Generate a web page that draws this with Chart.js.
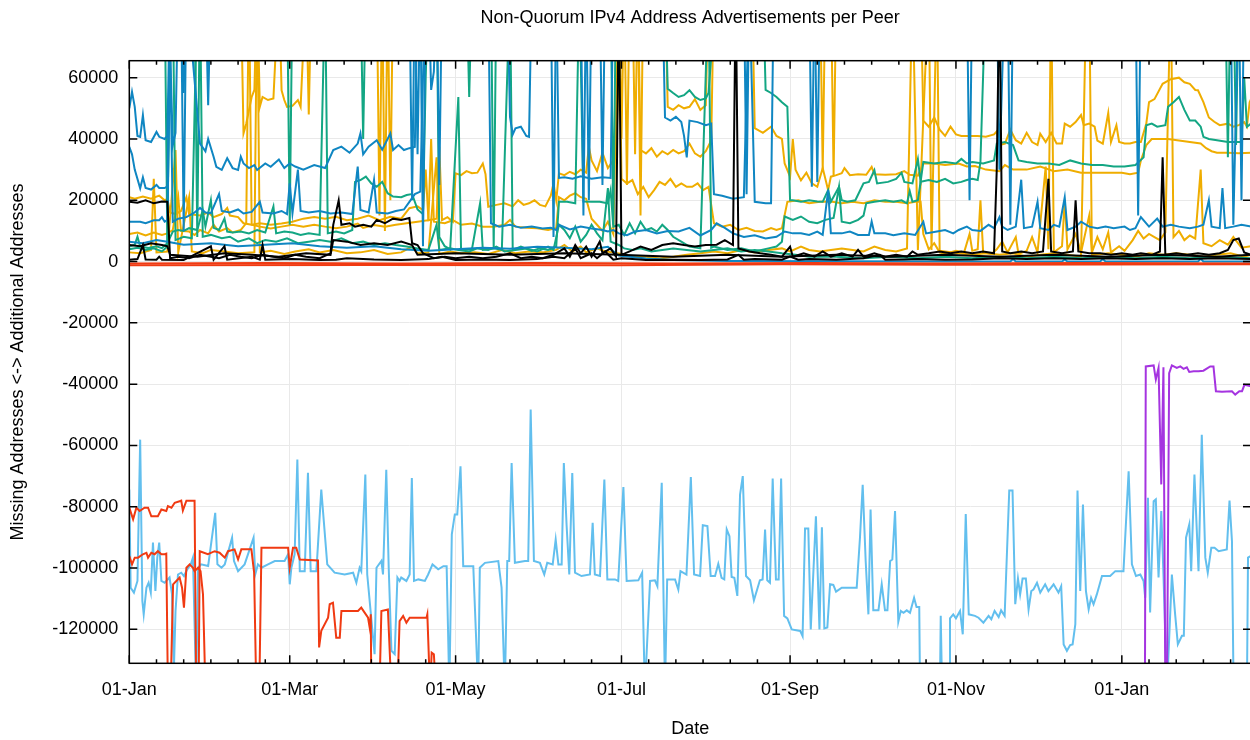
<!DOCTYPE html>
<html>
<head>
<meta charset="utf-8">
<title>Non-Quorum IPv4 Address Advertisements per Peer</title>
<script src="https://cdn.jsdelivr.net/npm/chart.js@4.4.1/dist/chart.umd.min.js"></script>
<style>
  html, body { margin: 0; padding: 0; background: #fff; overflow: hidden; }
  canvas { display: block; }
</style>
</head>
<body>
<canvas id="peerChart" width="1256" height="740"></canvas>
<script>
// x = days since 01-Jan, y = addresses (+ additional / - missing)
const majorDays = [0, 59, 120, 181, 243, 304, 365];
const majorLabels = ['01-Jan', '01-Mar', '01-May', '01-Jul', '01-Sep', '01-Nov', '01-Jan'];
const minorDays = [10, 20, 30, 40, 50, 69, 79, 89, 99, 109, 130, 140, 150, 160, 170,
  191, 201, 211, 221, 231, 253, 263, 273, 283, 293, 314, 324, 334, 344, 354, 375, 385, 395, 405];
const yTicks = [-120000, -100000, -80000, -60000, -40000, -20000, 0, 20000, 40000, 60000];

// peers, as [day, value]
const blueHi = [[0,50000],[1,55400],[2,50500],[3,41000],[4,40700],[5,47800],[6,39600],[8,39000],[10,42300],[11,40700],[13,40000],[14,41000],[15,90000],[19,90000],[20,10000],[21,90000],[28,90000],[29,51000],[30,90000],[103,90000],[104,20000],[105,90000],[106,35000],[107,90000],[108,5000],[109,90000],[110,90000],[111,56000],[112,62000],[113,90000],[114,25000],[115,90000],[139,90000],[140,47200],[141,41500],[142,43500],[144,44000],[146,41000],[147,40700],[148,90000],[155,90000],[156,8000],[157,90000],[166,90000],[167,15000],[168,90000],[169,20000],[170,90000],[173,90000],[174,25000],[175,90000],[196,90000],[197,47000],[199,46000],[201,47200],[203,45500],[204,41000],[205,34000],[206,46000],[209,45500],[212,44500],[214,45000],[215,22000],[218,21500],[222,20500],[226,21000],[228,90000],[230,19500],[234,19000],[236,19000],[237,90000],[250,90000],[251,24400],[252,90000],[308,90000],[309,20000],[310,90000],[319,90000],[320,30000],[322,90000],[370,90000],[371,15000],[372,90000],[405,90000],[406,12000],[408,90000],[409,20000],[410,90000],[412.5,90000]];

const blueMid = [[0,37400],[1,35000],[2,30000],[4,23900],[5,27500],[6,24000],[8,23500],[10,25000],[11,24000],[13,24000],[14,24500],[15,70000],[16,38000],[17,42000],[18,90000],[20,55000],[21,90000],[26,38500],[28,36000],[29,40000],[31,34200],[32,30900],[34,29900],[36,33700],[38,30500],[40,29900],[41,34200],[42,32000],[44,30500],[46,31500],[47,29900],[50,32000],[52,30900],[55,33300],[57,30500],[59,32000],[61,31000],[64,30000],[68,31500],[72,30500],[75,36400],[78,37500],[81,35500],[84,38500],[85,41800],[86,35000],[88,37500],[91,39600],[93,36500],[96,41800],[97,36400],[99,38000],[101,36400],[103,37000],[105,37400],[106,90000],[157,90000],[158,27300],[160,27500],[163,27000],[166,27800],[170,27000],[174,27500],[177,27300],[178,90000],[226,90000],[227,22000],[228,90000],[252,90000],[253,26000],[254,90000],[323,90000],[324,12000],[325,90000],[412.5,90000]];

const blueLow = [[0,13000],[4,13000],[6,12500],[9,13500],[11,13500],[12,14500],[13,13000],[14,13500],[15,70000],[16,13000],[18,14000],[21,14500],[24,16000],[26,17500],[28,16000],[30,15800],[33,22000],[34,16500],[37,16000],[40,17000],[42,15700],[45,16200],[48,19500],[49,16000],[53,15700],[56,16500],[58,15500],[59,25500],[60,15700],[62,30000],[63,16500],[66,16000],[70,16500],[74,15700],[78,16000],[82,15500],[84,31000],[85,16800],[88,16000],[90,26600],[91,16000],[95,15700],[98,16500],[101,17000],[103,19500],[105,22000],[107,22800],[108,60000],[109,90000],[132,90000],[133,12500],[136,11400],[140,12000],[144,11000],[148,11400],[152,10800],[155,11000],[157,10300],[158,12000],[162,10500],[166,11400],[170,10800],[174,10300],[176,9800],[178,10300],[180,9200],[183,8600],[186,9800],[190,10300],[194,9200],[198,10000],[202,9800],[206,11000],[210,8500],[214,10300],[216,12500],[219,11000],[222,9200],[226,8000],[230,8600],[234,7500],[238,8100],[241,9800],[244,9200],[247,9200],[250,8700],[253,9800],[255,8700],[257,23300],[258,9200],[262,9200],[265,9800],[268,8700],[272,8700],[273,13100],[274,9200],[278,9200],[281,8600],[285,9200],[289,8700],[292,13000],[293,9200],[297,9800],[300,10300],[303,9200],[305,10300],[308,11400],[310,10300],[313,10000],[316,12000],[318,10900],[320,14500],[321,11400],[323,10300],[326,11400],[328,26700],[329,10900],[332,11400],[334,19500],[335,10900],[338,10300],[340,12000],[342,11400],[344,21000],[345,10300],[348,11400],[350,13000],[353,11400],[356,10900],[359,11400],[362,10900],[366,11400],[368,10300],[370,10900],[372,14500],[375,11400],[378,14000],[380,11400],[383,12000],[386,11400],[390,10900],[393,11400],[395,12000],[397,20000],[398,11400],[401,10900],[402,24000],[403,10900],[406,11400],[409,12000],[412.5,11400]];

const blueBase = [[0,6500],[5,6000],[10,7000],[14,6500],[20,5500],[30,6000],[40,5000],[50,5500],[60,6000],[70,5000],[80,4500],[90,5000],[100,4000],[110,3500],[120,4000],[130,4500],[140,4200],[150,4800],[160,4500],[170,4000],[176,4800],[180,2000],[190,1000],[200,500],[220,200],[260,100],[300,0],[324,0],[325,800],[326,0],[343,0],[344,700],[345,0],[357,0],[358,800],[359,0],[393,0],[394,900],[395,0],[412.5,0]];

const goldHi = [[0,90000],[41,90000],[42,41800],[43,45000],[45,53700],[46,56000],[47,90000],[48,50500],[49,53700],[51,52700],[53,53200],[55,90000],[56,55900],[57,52700],[58,50500],[60,50800],[62,52700],[63,50500],[65,90000],[66,48000],[67,90000],[91,90000],[92,15000],[93,90000],[94,10000],[95,90000],[96,20000],[97,90000],[180,90000],[181,40000],[182,90000],[183,25000],[184,90000],[185,90000],[186,35000],[187,90000],[188,15000],[189,90000],[197,90000],[198,50500],[200,49500],[202,51000],[204,50000],[206,50500],[208,53000],[210,49500],[212,51000],[213,90000],[254,90000],[255,30000],[256,90000],[258,90000],[259,28000],[260,90000],[291,90000],[292,46000],[294,44000],[296,47000],[298,43000],[300,41000],[302,44000],[304,41500],[306,41000],[309,41000],[312,41000],[315,40700],[318,41500],[319,42500],[320,38000],[322,38500],[324,43000],[326,39600],[328,38500],[330,42000],[332,39000],[334,38000],[335,41700],[337,39000],[339,42000],[341,38500],[343,38500],[344,45000],[346,44000],[348,45500],[350,47800],[351,44500],[353,45000],[355,44000],[356,39500],[358,38500],[360,48500],[361,39000],[363,44500],[364,39000],[366,38500],[368,38500],[370,39000],[372,39000],[374,45000],[375,52000],[377,53000],[380,58000],[383,59500],[386,60000],[388,58500],[390,58000],[392,56000],[393,55900],[395,52000],[397,47000],[399,45600],[401,44500],[404,45000],[406,44000],[408,44500],[410,45500],[411,44000],[412,52000],[412.5,53000]];

const goldMid1 = [[0,21000],[2,20500],[5,21200],[8,20500],[11,21500],[13,20000],[14,20500],[15,16000],[17,15500],[19,16500],[21,21000],[22,15500],[26,15000],[29,16000],[31,14500],[34,15500],[36,17500],[37,15000],[40,14500],[42,12500],[45,12000],[48,12500],[52,12000],[56,12400],[60,13000],[64,14000],[68,14500],[72,14000],[76,14600],[80,13500],[84,14000],[88,15000],[92,13500],[96,14600],[100,14000],[103,17400],[106,18000],[108,16800],[109,30000],[110,13500],[113,14000],[114,37500],[115,13500],[117,14500],[119,13000],[120,28800],[122,28200],[124,29500],[126,28800],[128,29000],[130,32000],[131,28500],[132,17900],[135,18500],[138,19000],[141,18000],[143,20000],[145,18500],[147,19000],[149,20000],[151,18500],[153,18000],[155,21500],[156,25500],[157,20000],[158,28800],[160,28200],[162,29300],[164,28500],[166,30000],[168,29000],[169,37500],[170,33000],[172,29500],[174,35500],[176,30500],[178,33000],[179,35000],[181,90000],[187,90000],[188,36400],[190,35300],[192,37000],[194,34200],[196,36000],[198,35000],[200,36400],[202,35300],[204,36000],[206,38500],[208,35300],[210,34200],[212,36000],[214,39500],[215,90000],[229,90000],[230,43500],[233,42000],[236,44000],[238,41000],[240,40000],[241,32000],[243,27700],[244,40000],[245,30000],[247,26500],[249,29000],[251,25500],[253,24400],[255,30500],[257,23300],[258,27700],[260,28200],[262,28800],[263,30500],[265,28200],[268,28500],[271,28300],[273,30900],[274,28500],[278,28300],[282,28500],[285,29500],[287,28300],[290,28000],[292,32000],[296,32000],[300,31500],[305,32000],[308,31000],[311,31200],[315,30000],[320,29500],[322,31500],[325,30000],[330,30000],[335,31000],[340,29500],[345,30000],[350,29000],[355,29000],[360,29000],[365,29000],[368,28500],[371,29000],[372,33000],[374,38000],[376,40000],[378,40000],[382,40000],[386,39500],[390,39000],[394,38500],[396,37000],[398,36000],[400,35500],[404,35500],[408,35300],[412.5,35500]];

const goldMid2 = [[0,9000],[3,9500],[6,8500],[9,9500],[12,8700],[14,9200],[16,10300],[18,21000],[19,10000],[22,9800],[24,8700],[26,10300],[29,9200],[31,12000],[33,9800],[36,10900],[38,9500],[41,10300],[43,12500],[44,90000],[45,12000],[48,11400],[52,10800],[56,11400],[60,12000],[64,11400],[68,12000],[72,11400],[76,10900],[80,11400],[84,12400],[86,11000],[90,11900],[94,11400],[98,12000],[102,12500],[106,13000],[110,13500],[111,40000],[112,13000],[116,12500],[119,13500],[122,12000],[126,12400],[130,11400],[134,11400],[138,12000],[140,13600],[142,11400],[146,11000],[150,10900],[154,10300],[157,11000],[158,21000],[160,20000],[162,21500],[164,22300],[166,21000],[168,20500],[170,14000],[172,12000],[174,10000],[176,13000],[178,9000],[180,90000],[181,27000],[183,25500],[185,26600],[187,22000],[189,24400],[191,21000],[193,23300],[195,26000],[197,25000],[199,27000],[201,24400],[203,25500],[205,24400],[207,24400],[209,25500],[211,23300],[213,24400],[215,12500],[218,11400],[221,12000],[224,10300],[227,11000],[230,10000],[233,9800],[236,10900],[238,10300],[240,10900],[242,19500],[246,20000],[250,19000],[254,19500],[258,19600],[262,19000],[266,19500],[270,19000],[274,20000],[278,19500],[282,19500],[286,19000],[289,19500],[291,19500],[292,9000],[294,4000],[296,6000],[298,3000],[300,2500],[304,3500],[307,3000],[309,9000],[310,3500],[312,4000],[313,20000],[314,3000],[317,2500],[319,4000],[321,6500],[323,3000],[326,8000],[327,2500],[330,3500],[332,8000],[334,3000],[337,31000],[338,4000],[339,90000],[340,3000],[343,5000],[344,20000],[345,4000],[348,9000],[350,3000],[353,15000],[354,3000],[356,8000],[358,4000],[360,9500],[361,3000],[364,5000],[366,3500],[369,7000],[371,10000],[373,7500],[375,9000],[377,8000],[379,7000],[381,9500],[383,90000],[384,8000],[386,10000],[388,7000],[390,8500],[392,7500],[394,30000],[395,6000],[398,5000],[401,7000],[404,5500],[406,8000],[409,4500],[412.5,5000]];

const goldLow = [[0,3000],[4,2700],[8,3800],[9,27000],[10,3000],[14,3300],[17,36400],[18,3000],[22,21000],[23,3300],[27,2700],[30,3800],[35,3300],[40,2700],[46,3000],[47,90000],[48,3000],[52,3500],[57,2500],[61,3300],[66,4000],[70,3000],[75,3800],[80,2700],[85,3000],[90,3800],[95,2500],[100,3000],[104,4900],[106,2700],[110,3000],[113,34000],[114,2500],[118,3300],[122,2700],[127,3000],[132,2500],[137,3800],[142,2700],[147,3300],[152,3000],[157,3800],[160,5400],[163,3300],[166,4900],[168,3000],[172,4300],[175,3300],[178,3000],[181,2500],[185,1600],[190,1600],[195,1000],[200,1600],[205,2200],[210,2700],[215,3300],[220,2700],[225,3800],[230,3000],[235,3800],[240,4300],[243,3300],[247,4900],[250,3800],[254,3300],[258,3800],[262,4300],[266,3800],[270,3300],[274,4900],[278,3800],[282,3300],[286,4300],[288,90000],[290,3800],[294,90000],[295,3800],[297,90000],[298,3500],[300,3300],[305,2700],[310,2200],[315,2700],[320,2200],[325,2700],[330,1600],[335,2200],[340,2700],[345,2200],[350,1600],[352,90000],[353,90000],[354,2000],[355,2200],[360,2700],[365,2200],[370,1600],[375,2700],[380,2200],[385,2700],[390,2200],[395,1600],[400,2200],[405,2700],[410,1600],[412.5,2200]];

const greenHi = [[0,90000],[13,90000],[14,5000],[15,90000],[24,90000],[25,8000],[26,90000],[58,90000],[59,12000],[60,90000],[85,90000],[86,40000],[87,90000],[124,90000],[125,53700],[126,90000],[133,90000],[134,4000],[135,90000],[177,90000],[178,12000],[179,90000],[197,90000],[198,56400],[200,55000],[202,53700],[204,54300],[206,55900],[208,53700],[210,52700],[212,53200],[213,55000],[216,90000],[233,90000],[234,56000],[236,55000],[238,53700],[240,52000],[242,50500],[243,20000],[244,20000],[247,19500],[250,20000],[253,19600],[255,19500],[257,23300],[258,19500],[261,24400],[262,20000],[264,19500],[267,20000],[270,25500],[272,26000],[274,29800],[275,25500],[279,26000],[282,27000],[284,29000],[285,26000],[288,25500],[290,33400],[291,26000],[292,32500],[296,32000],[300,32500],[304,32000],[306,33500],[308,32000],[310,32500],[314,32000],[318,33000],[319,38500],[322,39000],[325,38000],[327,33000],[330,32500],[334,32000],[338,32000],[342,31500],[346,33000],[350,32000],[354,31500],[358,31500],[362,31000],[366,31000],[370,31500],[373,34000],[374,44500],[376,45000],[378,44000],[381,44500],[382,50500],[384,52000],[386,53700],[388,49500],[390,46000],[392,46000],[394,44000],[395,40700],[397,40000],[400,39600],[404,39000],[409,39000],[410,60000],[411,44000],[412.5,45000]];

const greenMid = [[0,4900],[2,5500],[3,8100],[4,4900],[7,4400],[10,5000],[12,4400],[14,6000],[16,9800],[18,10300],[20,10000],[22,10900],[25,10300],[27,16800],[28,11400],[30,20000],[31,11000],[33,10300],[35,14000],[36,9800],[38,9500],[41,9800],[44,9200],[47,10300],[50,9500],[53,18000],[54,9200],[57,9800],[60,9500],[63,8700],[66,9200],[70,8700],[72,90000],[73,9200],[76,9800],[79,9200],[82,10300],[83,26000],[85,26600],[87,27700],[89,25500],[91,24400],[93,26000],[95,22300],[97,21200],[100,21000],[102,21700],[104,22000],[106,17000],[108,15500],[109,60000],[110,90000],[113,90000],[114,8000],[116,5000],[118,4000],[121,53700],[122,3800],[126,4000],[129,19000],[130,3800],[134,4300],[137,3800],[140,90000],[141,3800],[144,4900],[148,3500],[151,4300],[154,3800],[157,4900],[158,19500],[161,19500],[164,19000],[165.5,90000],[167,19600],[170,19500],[173,19500],[176,19000],[177,23300],[178,11400],[180,12000],[182,8700],[184,12500],[186,9200],[188,13000],[190,10300],[192,10900],[194,9800],[196,12000],[198,10300],[200,8100],[203,6500],[206,4900],[210,4300],[213,90000],[214,4500],[215,4900],[220,3800],[225,4300],[230,3300],[235,4300],[238,4900],[240,6500],[241,14700],[244,13600],[247,14700],[250,13000],[253,12500],[256,13600],[259,14200],[261,24400],[262,13000],[265,12500],[268,13600],[270,15000],[271,19000],[274,19500],[278,20000],[281,19500],[284,20000],[286,19000],[287,23000],[288,19500],[290,20000],[291,26000],[294,26600],[297,26000],[300,27000],[303,25500],[306,26000],[308,26600],[310,27000],[312,26600],[313,32500],[315,90000],[403,90000],[404,34000],[405,90000],[406,90000],[407,38000],[408,90000],[412.5,90000]];

const greenLow = [[0,4000],[3,4500],[6,3800],[9,4300],[12,3300],[14,4900],[15,90000],[16,90000],[17,7000],[20,8100],[23,7600],[25,90000],[26,90000],[27,8100],[30,8700],[34,7600],[37,8100],[40,6500],[44,7600],[47,6000],[50,7000],[54,6500],[58,7600],[62,6000],[66,6500],[70,7000],[74,6500],[78,7600],[82,6000],[86,6500],[90,5400],[94,6000],[98,5400],[102,4900],[106,4300],[110,3800],[113,12000],[114,3800],[118,4300],[121,3800],[125,3300],[128,4300],[132,3800],[135,4900],[138,3300],[142,3800],[146,4300],[150,3300],[154,4900],[156,3800],[158,12000],[160,10300],[162,7600],[164,11400],[166,6500],[168,8700],[170,12000],[172,9200],[174,7000],[176,24000],[177,6500],[180,5400],[182,4300],[185,3800],[188,4300],[192,3300],[196,3800],[200,4300],[205,3800],[210,3300],[215,3800],[220,4300],[225,3300],[230,3800],[235,3300],[240,2700],[245,2200],[250,1600],[260,1600],[270,1100],[280,1600],[290,1100],[300,1600],[310,1100],[320,1600],[330,1100],[340,1600],[350,1100],[360,1600],[370,1100],[380,1600],[390,1100],[400,1600],[412.5,1100]];

const blackMid = [[0,19500],[3,19200],[6,20000],[9,19000],[12,19600],[14,19500],[15,1100],[18,1600],[22,1100],[26,2200],[30,1600],[33,1100],[37,2200],[41,1600],[45,1100],[49,2200],[53,1600],[57,1100],[61,2200],[65,1600],[70,1100],[74,2700],[75,12000],[77,20000],[78,12000],[81,12500],[83,11400],[86,12000],[89,11400],[91,13600],[94,12500],[97,14000],[100,13600],[103,14200],[104,6000],[106,5400],[108,2700],[112,1100],[116,1600],[120,1100],[125,1600],[130,1100],[135,1600],[140,2700],[144,1100],[148,1600],[152,1100],[156,2200],[160,4300],[162,1600],[164,5400],[166,2700],[168,4900],[170,1600],[173,6500],[174,2700],[177,4300],[179,1600],[180,90000],[181,2200],[184,3300],[188,4900],[192,3800],[196,5400],[200,6000],[204,5400],[208,4900],[212,5400],[216,5500],[219,7000],[222,5400],[223,90000],[224,4300],[228,3300],[232,2700],[236,2200],[240,1600],[243,4900],[244,1600],[248,2700],[252,1600],[255,3300],[258,1600],[262,2700],[266,1600],[268,3800],[270,1600],[274,2700],[278,1600],[282,2200],[286,1600],[288,3300],[290,2200],[294,2700],[298,3300],[302,2700],[306,3300],[310,2700],[314,3300],[318,2700],[319,30000],[320,90000],[321,3300],[324,2700],[328,3300],[332,2700],[336,3300],[338,27000],[339,3300],[343,2700],[347,3300],[348,20000],[349,3300],[353,2700],[357,2700],[361,2200],[365,2700],[369,2200],[372,2700],[376,2200],[379,3300],[380,34000],[381,2200],[385,2700],[389,2200],[393,2700],[397,2200],[401,2700],[404,3800],[406,7000],[408,7500],[410,3000],[412.5,2200]];

const blackLow = [[0,600],[3,800],[5,5400],[6,700],[10,600],[11,1600],[12,600],[20,500],[30,5000],[31,600],[35,5000],[36,600],[45,1600],[48,600],[49,5400],[50,600],[60,800],[70,500],[76,600],[80,1100],[90,700],[100,500],[110,800],[115,1600],[120,500],[130,700],[140,500],[150,800],[156,1600],[160,1100],[164,4300],[166,1100],[170,2700],[172,1100],[175,3300],[178,600],[181,1100],[185,800],[190,500],[200,600],[210,500],[220,700],[224,2200],[226,600],[230,800],[240,600],[243,1600],[246,600],[250,800],[260,600],[270,1100],[276,2200],[278,600],[285,700],[290,800],[300,600],[310,700],[320,1100],[330,800],[340,1100],[350,800],[360,1100],[370,800],[380,1100],[390,800],[400,1100],[412.5,800]];

const blackLow2 = [[0,5400],[4,5000],[8,6000],[12,5400],[14,5000],[15,2200],[25,1600],[35,2700],[45,2200],[55,1600],[65,2700],[74,2200],[75,7000],[80,6500],[85,5400],[90,6000],[95,5400],[100,6500],[104,5400],[106,2200],[120,2700],[140,2200],[160,2700],[180,2200],[200,1600],[220,2200],[240,1600],[260,2200],[280,1600],[300,2200],[320,1600],[340,2200],[360,1600],[380,2200],[400,1600],[412.5,2200]];

const redZero = [[0,-600],[50,-500],[100,-600],[150,-500],[200,-600],[250,-500],[300,-600],[350,-500],[412.5,-600]];
const redZero2 = [[0,-1200],[90,-1100],[180,-1200],[240,-900],[300,-1000],[412.5,-900]];

const redUpper = [[0,-80300],[1.4,-84100],[2.6,-80300],[3.8,-81400],[5.6,-80300],[6.9,-80300],[8.1,-83100],[10.5,-83100],[11.8,-80900],[13.6,-81400],[14.2,-79800],[15.5,-80300],[16.7,-78700],[18.5,-78200],[19.1,-78000],[19.7,-81200],[21,-78000],[24,-78000],[24.6,-140000],[25.5,-140000],[25.9,-94500],[28.9,-95500],[31.4,-94500],[33.2,-95000],[35.1,-96600],[36.3,-94500],[38.7,-93900],[40,-97200],[41.2,-93900],[44.9,-93900],[45.9,-101500],[46.7,-140000],[47.8,-140000],[48.6,-93400],[58.4,-93400],[59,-99900],[60.2,-93400],[61.4,-93400],[62.7,-97200],[69.4,-97500],[69.8,-125900],[70.6,-120500],[73.1,-116200],[73.7,-111800],[74.9,-111300],[76.1,-122700],[77.4,-122700],[78,-114000],[84.1,-114000],[85.3,-112900],[87.8,-116200],[88.4,-119400],[88.8,-115100],[89,-140000],[92,-140000],[92.7,-114000],[95.1,-113500],[96.4,-140000],[98.6,-140000],[99.4,-117300],[100.7,-115600],[101.9,-117800],[103.1,-116200],[109.3,-116200],[109.6,-115100],[110.6,-140000],[111.2,-127600],[112,-128100],[112.8,-140000]];

const redLower = [[0,-96100],[1,-98800],[2,-96600],[3.2,-96600],[5,-95500],[6.3,-95000],[6.9,-96600],[8.1,-95000],[9.3,-95500],[10.5,-94500],[11.8,-95500],[13,-95500],[13.6,-95300],[14.2,-140000],[15.2,-140000],[16.1,-105300],[17.3,-104200],[18.5,-103100],[19.4,-106400],[20.1,-112900],[21,-99900],[22.2,-98800],[23.4,-99900],[24,-101000],[25.3,-99900],[26.2,-101000],[27.1,-108600],[28,-140000]];

const skyLine = [[0,-74400],[0.5,-106400],[1.7,-108000],[3,-104200],[4,-58100],[4.8,-110700],[5.3,-115100],[6.3,-106400],[7.1,-104800],[7.9,-108000],[8.7,-91700],[9.6,-107500],[10.3,-96600],[11,-91700],[11.8,-104200],[13,-104800],[14.8,-103100],[15.7,-108500],[16.4,-133000],[17,-114000],[17.9,-102100],[19.1,-101500],[20.1,-102600],[21.3,-100400],[22.6,-98800],[23.4,-96600],[24.6,-140000],[25.3,-99900],[26.4,-98800],[29,-99300],[31.6,-82000],[32.4,-98800],[33.9,-99900],[35.1,-98800],[37.8,-90100],[38.5,-97700],[40,-101000],[42.4,-98800],[45.7,-90100],[46.3,-102100],[47.3,-98800],[48.6,-99900],[51,-98800],[53.5,-97700],[57.1,-97700],[58.4,-95500],[59,-105300],[59.6,-99900],[60.8,-95500],[61.8,-64600],[62.7,-101000],[64.5,-101000],[65.7,-68900],[66.7,-101000],[68.8,-101000],[70.6,-74400],[72.8,-98800],[75.5,-101500],[79.2,-102100],[82.3,-101500],[83.5,-104800],[84.7,-99900],[85.3,-101000],[86.8,-69500],[87.5,-102100],[90.2,-128100],[90.9,-99900],[92.7,-97700],[93.3,-102100],[94.5,-67900],[95.4,-99900],[96.4,-127000],[97.6,-128100],[98.6,-103100],[99.4,-104200],[100,-103100],[101.9,-104200],[103.1,-102100],[103.9,-70600],[104.7,-104200],[106.3,-103700],[108.7,-104200],[109.9,-102100],[111.5,-98800],[113.6,-100400],[115.5,-99400],[116.7,-99400],[117.7,-140000],[118.6,-89000],[119.7,-82500],[120.6,-82500],[121.8,-66800],[122.8,-99400],[126.5,-99400],[128.3,-140000],[128.9,-99900],[130.8,-98300],[135.7,-97700],[136.9,-106400],[138.1,-140000],[139,-97700],[139.7,-97700],[140.6,-65700],[141.8,-98300],[145.5,-97700],[146.7,-97700],[147.6,-48300],[148.8,-97700],[151,-98300],[152.6,-102100],[153.7,-98300],[155.7,-98800],[156.8,-90700],[157.8,-98800],[159,-98800],[159.8,-65700],[160.8,-85800],[161.8,-102100],[162.9,-69000],[163.9,-101500],[166.3,-102600],[169.4,-102100],[170.4,-85200],[171.2,-102100],[173.1,-102600],[174.7,-71100],[175.8,-103700],[178.6,-103700],[179.8,-104200],[181.7,-73600],[182.9,-104200],[187.2,-104000],[188.6,-101500],[189.6,-140000],[191.5,-104200],[193.3,-104000],[194.2,-105900],[195.8,-72200],[197,-140000],[197.8,-103700],[200.7,-103700],[201.9,-107000],[202.7,-101000],[204.9,-102100],[206.5,-70300],[207.7,-102100],[209.9,-102600],[210.9,-86000],[212.6,-86300],[213.8,-102600],[215.4,-102600],[216.6,-98600],[217.8,-103200],[218.8,-103700],[219.7,-87400],[220.7,-89600],[221.5,-102900],[222.5,-103200],[223.6,-109100],[224.6,-76000],[225.6,-70000],[226.8,-102600],[228.3,-104000],[229.7,-110500],[231.9,-104000],[232.9,-103700],[233.8,-87400],[234.6,-104000],[235.6,-104800],[236.6,-70800],[237.8,-103700],[238.8,-103700],[239.7,-70800],[240.8,-115600],[242,-116400],[243.6,-120000],[246.7,-120500],[247.6,-122200],[248.5,-87100],[249.7,-87100],[250.6,-120000],[252.5,-83100],[253.8,-120000],[254.7,-86700],[255.6,-119700],[256.7,-119400],[257.7,-105300],[258.9,-105500],[259.9,-107700],[262,-106400],[267.5,-106400],[268.7,-90100],[269.7,-72800],[270.8,-97700],[271.8,-115100],[272.6,-80900],[273.6,-113800],[275.5,-113800],[276.7,-105300],[277.9,-113800],[278.8,-113800],[279.8,-97700],[280.6,-97200],[281.6,-81400],[282.8,-117500],[283.7,-114000],[284.7,-114600],[285.9,-113800],[287.1,-114600],[288.6,-109700],[289.5,-112700],[290.5,-112700],[290.8,-140000],[298.1,-140000],[298.4,-115600],[298.9,-140000],[301.6,-140000],[301.8,-116400],[303,-115100],[304,-116400],[305.5,-114000],[306.5,-121600],[307.6,-82400],[308.7,-115100],[311,-115600],[312.3,-116200],[314.1,-117800],[316,-115600],[317,-116700],[318.2,-114000],[319.7,-116000],[320.6,-113800],[321.9,-115600],[323.6,-74700],[324.8,-74700],[325.8,-111800],[326.8,-103400],[327.6,-108600],[328.5,-103400],[329.7,-103400],[330.7,-113500],[331.7,-107500],[332.5,-107000],[333.8,-104800],[335,-108000],[336.8,-105300],[338,-107500],[339.9,-105300],[341.7,-108000],[342.7,-105900],[343.6,-124900],[344.8,-127000],[346,-125100],[346.9,-124900],[347.9,-118300],[348.7,-74700],[349.7,-107500],[350.7,-79300],[351.8,-107500],[352.8,-113500],[353.7,-109700],[354.6,-111800],[355.8,-108600],[357.7,-102600],[360.7,-102600],[362.6,-101000],[365.6,-101000],[367.5,-68400],[368.7,-98800],[370.2,-102600],[371.8,-102100],[373,-104200],[373.6,-109700],[374.6,-77100],[375.4,-114500],[376.7,-78200],[377.5,-77600],[378.5,-103100],[379.5,-81400],[380.3,-102100],[381.6,-140000],[383.4,-102100],[384.6,-115100],[385.6,-124900],[387.1,-122100],[387.8,-122100],[388.6,-90100],[389.8,-85800],[390.5,-101000],[391.7,-69500],[393.2,-101000],[394.4,-56500],[395.7,-96600],[396.6,-101500],[397.9,-93400],[399.1,-93400],[400.6,-94500],[403.6,-93900],[404.6,-78000],[405.5,-91200],[406.1,-140000],[411,-140000],[411.4,-96600],[412.5,-96000]];

const purpleLine = [[373.5,-140000],[373.8,-34200],[376.7,-33900],[377.5,-38500],[378.5,-34700],[379.5,-72700],[380.3,-34500],[381,-140000],[381.6,-140000],[382.4,-36400],[383.4,-33900],[385.2,-34700],[386.5,-34200],[387.7,-35000],[388.9,-34500],[389.8,-36000],[391.4,-35800],[393.2,-35800],[395,-35600],[397.5,-34200],[398.7,-34200],[399.6,-42300],[401.8,-42500],[405.5,-42300],[406.7,-43400],[408.2,-42300],[409.2,-42300],[410.1,-40200],[412.5,-40700]];

const BLUE = '#0f86c2';
const GOLD = '#efad00';
const GREEN = '#13a683';
const BLACK = '#000000';
const SKY = '#62bfee';
const RED = '#f03a12';
const PURPLE = '#a534e0';
const GRID = '#e9e9e9';

// first entry is drawn on top
const lines = [
  [redZero, RED], [redZero2, RED], [purpleLine, PURPLE],
  [redUpper, RED], [redLower, RED], [skyLine, SKY],
  [blackLow, BLACK], [blackLow2, BLACK], [blackMid, BLACK],
  [blueBase, BLUE], [blueLow, BLUE], [blueMid, BLUE], [blueHi, BLUE],
  [greenLow, GREEN], [greenMid, GREEN], [greenHi, GREEN],
  [goldLow, GOLD], [goldMid2, GOLD], [goldMid1, GOLD], [goldHi, GOLD]
];

// gnuplot style frame with inward ticks on all sides
const frameTicks = {
  id: 'frameTicks',
  afterDatasetsDraw(chart) {
    const {ctx, chartArea: a, scales: {x, y}} = chart;
    ctx.save();
    ctx.strokeStyle = '#000';
    ctx.lineWidth = 1.5;
    ctx.beginPath();
    x.ticks.forEach(t => {
      const px = x.getPixelForValue(t.value);
      const len = majorDays.includes(t.value) ? 8 : 4;
      ctx.moveTo(px, a.bottom); ctx.lineTo(px, a.bottom - len);
      ctx.moveTo(px, a.top); ctx.lineTo(px, a.top + len);
    });
    y.ticks.forEach(t => {
      const py = y.getPixelForValue(t.value);
      ctx.moveTo(a.left, py); ctx.lineTo(a.left + 8, py);
      ctx.moveTo(a.right, py); ctx.lineTo(a.right - 8, py);
    });
    ctx.stroke();
    ctx.strokeRect(a.left, a.top, a.right - a.left, a.bottom - a.top);
    ctx.restore();
  }
};

Chart.defaults.font.family = "'Liberation Sans', Arial, Helvetica, sans-serif";
Chart.defaults.font.size = 18;
Chart.defaults.color = '#000';

const allDays = majorDays.concat(minorDays).sort((a, b) => a - b);

new Chart(document.getElementById('peerChart'), {
  type: 'line',
  data: {
    datasets: lines.map(([pts, color]) => ({
      data: pts.map(p => ({x: p[0], y: p[1]})),
      borderColor: color,
      borderWidth: 2,
      pointRadius: 0,
      fill: false,
      tension: 0
    }))
  },
  options: {
    responsive: false,
    animation: false,
    devicePixelRatio: 1,
    layout: {padding: {left: 0, right: 5, top: 0, bottom: 0}},
    plugins: {
      legend: {display: false},
      tooltip: {enabled: false},
      title: {
        display: true,
        text: 'Non-Quorum IPv4 Address Advertisements per Peer',
        fullSize: false,
        color: '#000',
        font: {size: 18, weight: 'normal'},
        padding: {top: 7, bottom: 32.1}
      }
    },
    scales: {
      x: {
        type: 'linear',
        min: 0,
        max: 412.5,
        afterBuildTicks: s => { s.ticks = allDays.map(v => ({value: v})); },
        afterFit: s => { s.height = 76.7; },
        ticks: {
          autoSkip: false,
          maxRotation: 0,
          padding: 16,
          callback: v => {
            const i = majorDays.indexOf(v);
            return i < 0 ? '' : majorLabels[i];
          }
        },
        grid: {
          drawTicks: false,
          color: c => (c.tick && majorDays.includes(c.tick.value)) ? GRID : 'rgba(0,0,0,0)'
        },
        border: {display: false},
        title: {display: true, text: 'Date', padding: {top: 0, bottom: 0}}
      },
      y: {
        min: -131072,
        max: 65536,
        afterBuildTicks: s => { s.ticks = yTicks.map(v => ({value: v})); },
        afterFit: s => { s.width = 129.3; },
        ticks: {padding: 11, autoSkip: false, callback: v => String(v)},
        grid: {drawTicks: false, color: GRID},
        border: {display: false},
        title: {
          display: true,
          text: 'Missing Addresses <-> Additional Addresses',
          padding: {top: 7, bottom: 0}
        }
      }
    }
  },
  plugins: [frameTicks]
});
</script>
</body>
</html>
